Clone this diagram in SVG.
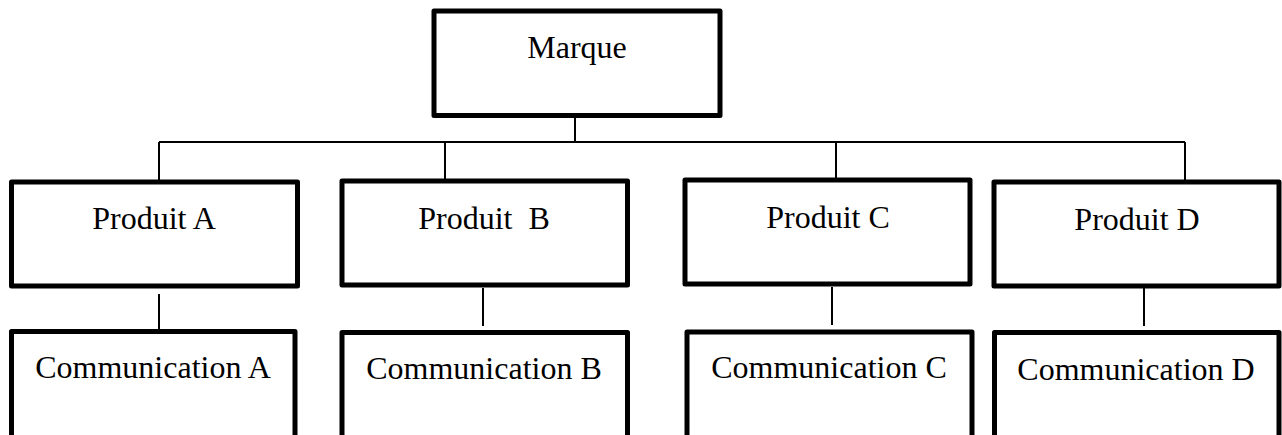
<svg xmlns="http://www.w3.org/2000/svg" width="1282" height="435" viewBox="0 0 1282 435">
  <style>
    .box { fill: #ffffff; stroke: #000000; stroke-width: 5; stroke-linejoin: round; }
    .link { fill: none; stroke: #000000; stroke-width: 2; }
    .label { font-family: "Liberation Serif", "Times New Roman", serif; font-size: 32px; fill: #000000; text-anchor: middle; white-space: pre; }
  </style>
  <rect width="1282" height="435" fill="#ffffff"/>

  <!-- tree connectors -->
  <g id="connectors">
    <line class="link" x1="575" y1="117" x2="575" y2="142"/>
    <line class="link" x1="159" y1="142" x2="1185" y2="142"/>
    <line class="link" x1="159" y1="142" x2="159" y2="180"/>
    <line class="link" x1="445" y1="142" x2="445" y2="179"/>
    <line class="link" x1="836" y1="142" x2="836" y2="178"/>
    <line class="link" x1="1185" y1="142" x2="1185" y2="180"/>
    <line class="link" x1="159" y1="294" x2="159" y2="330"/>
    <line class="link" x1="483" y1="288" x2="483" y2="326"/>
    <line class="link" x1="832" y1="287" x2="832" y2="325"/>
    <line class="link" x1="1144" y1="288" x2="1144" y2="326"/>
  </g>

  <g id="marque">
    <rect class="box" x="434" y="11" width="286" height="104.5"/>
    <text class="label" x="577" y="58">Marque</text>
  </g>

  <g id="produit-a">
    <rect class="box" x="11.5" y="182" width="286" height="104"/>
    <text class="label" x="154" y="229">Produit A</text>
  </g>
  <g id="produit-b">
    <rect class="box" x="342" y="181" width="285.5" height="104"/>
    <text class="label" x="484" y="229">Produit  B</text>
  </g>
  <g id="produit-c">
    <rect class="box" x="685" y="180" width="285" height="104"/>
    <text class="label" x="828" y="228">Produit C</text>
  </g>
  <g id="produit-d">
    <rect class="box" x="994" y="182" width="285" height="104"/>
    <text class="label" x="1137" y="230">Produit D</text>
  </g>

  <g id="communication-a">
    <rect class="box" x="11.5" y="331.5" width="283.5" height="120"/>
    <text class="label" x="153" y="378">Communication A</text>
  </g>
  <g id="communication-b">
    <rect class="box" x="342" y="332.5" width="285.5" height="120"/>
    <text class="label" x="484" y="379">Communication B</text>
  </g>
  <g id="communication-c">
    <rect class="box" x="687" y="332" width="285" height="120"/>
    <text class="label" x="829" y="378">Communication C</text>
  </g>
  <g id="communication-d">
    <rect class="box" x="994.5" y="332.5" width="284.5" height="120"/>
    <text class="label" x="1136" y="380">Communication D</text>
  </g>
</svg>
